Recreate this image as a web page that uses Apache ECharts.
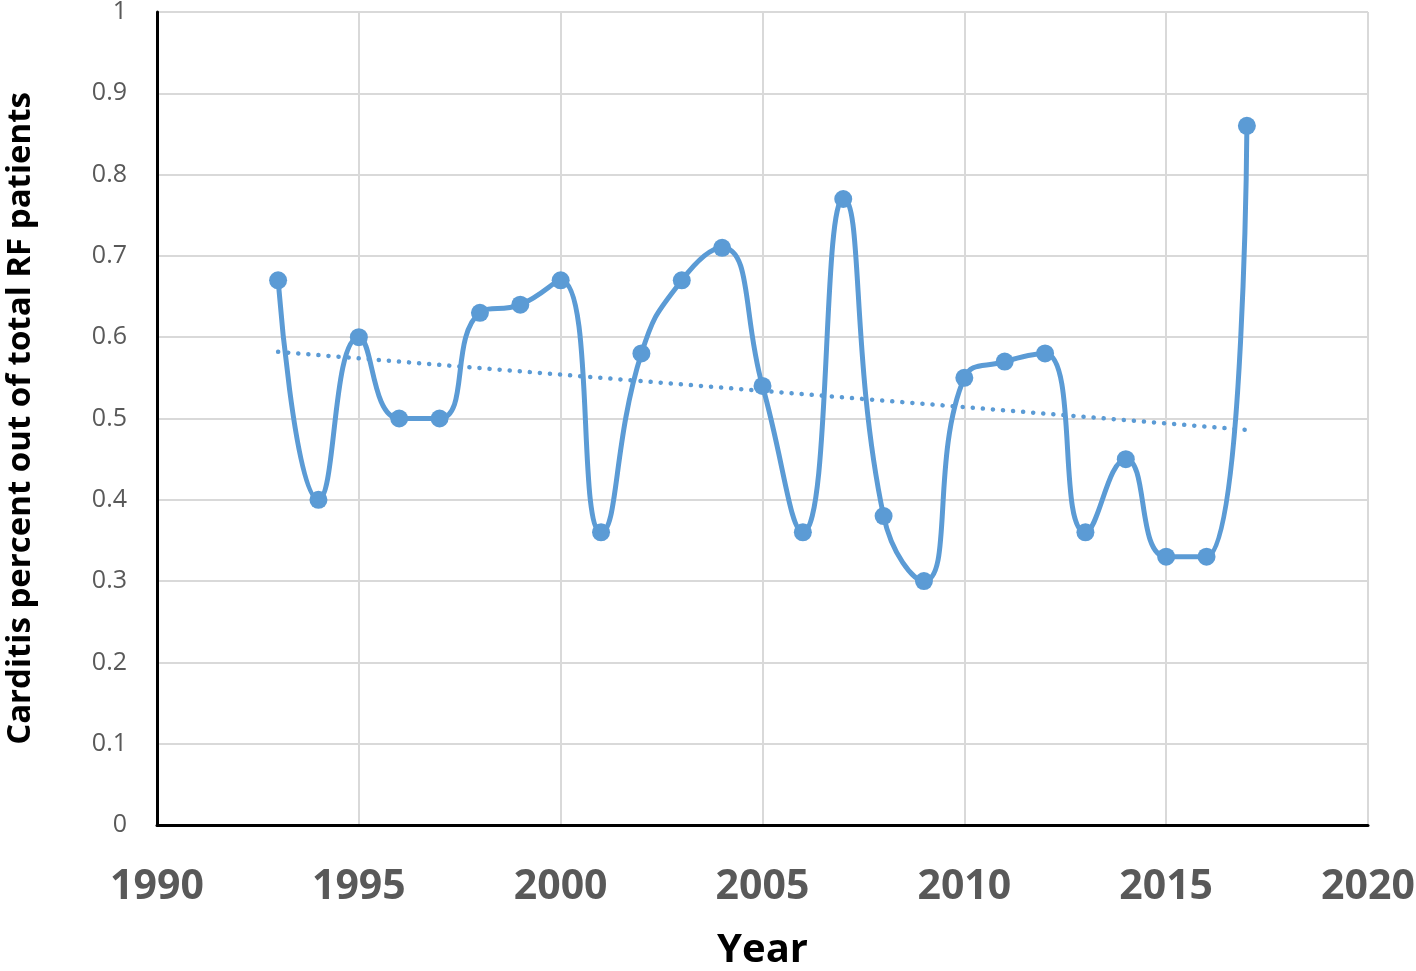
<!DOCTYPE html>
<html><head><meta charset="utf-8">
<script src="https://cdn.jsdelivr.net/npm/echarts@6/dist/echarts.min.js"></script>
<style>html,body{margin:0;padding:0;background:#fff}#c{width:1416px;height:971px}</style>
</head><body><div id="c"></div>
<script>
var years = [1993,1994,1995,1996,1997,1998,1999,2000,2001,2002,2003,2004,2005,2006,2007,2008,2009,2010,2011,2012,2013,2014,2015,2016,2017];
var values = [0.67,0.40,0.60,0.50,0.50,0.63,0.64,0.67,0.36,0.58,0.67,0.71,0.54,0.36,0.77,0.38,0.30,0.55,0.57,0.58,0.36,0.45,0.33,0.33,0.86];
var trendYears = [1993, 2017];
var trendValues = [0.582, 0.486];
var xTitle = 'Year';
var yTitle = 'Carditis percent out of total RF patients';

var font = 'Open Sans';
var chart = echarts.init(document.getElementById('c'));
chart.setOption({
  animation: false,
  backgroundColor: '#fff',
  grid: {left: 157, right: 48, top: 12, bottom: 146, containLabel: false, outerBoundsMode: 'none'},
  xAxis: {
    type: 'value', min: 1990, max: 2020, interval: 5,
    name: xTitle, nameLocation: 'middle', nameGap: 106,
    nameTextStyle: {fontFamily: font, fontWeight: 'bold', fontSize: 40, color: '#000'},
    axisLine: {show: true, onZero: false, lineStyle: {color: '#000', width: 3}},
    axisTick: {show: false},
    axisLabel: {margin: 42, fontFamily: font, fontWeight: 'bold', fontSize: 41, color: '#595959',
      formatter: function(v){ return String(v); }},
    splitLine: {show: true, lineStyle: {color: '#d9d9d9', width: 2}}
  },
  yAxis: {
    type: 'value', min: 0, max: 1, interval: 0.1,
    name: yTitle, nameLocation: 'middle', nameGap: 120,
    nameTextStyle: {fontFamily: font, fontWeight: 'bold', fontSize: 33, color: '#000'},
    axisLine: {show: true, lineStyle: {color: '#000', width: 3}},
    axisTick: {show: false},
    axisLabel: {margin: 30, fontFamily: font, fontSize: 25, color: '#595959',
      formatter: function(v){ return Math.round(v*10)/10 + ''; }},
    splitLine: {show: true, lineStyle: {color: '#d9d9d9', width: 2}}
  },
  series: [
    {
      type: 'line', smooth: 0.5,
      data: years.map(function(y,i){ return [y, values[i]]; }),
      symbol: 'circle', symbolSize: 18,
      lineStyle: {color: '#5B9BD5', width: 5},
      itemStyle: {color: '#5B9BD5'},
      z: 3
    },
    {
      type: 'line',
      data: trendYears.map(function(y,i){ return [y, trendValues[i]]; }),
      symbol: 'none',
      lineStyle: {color: '#5B9BD5', width: 4.5, type: [0.1, 10], cap: 'round'},
      z: 2
    }
  ]
});
</script></body></html>
